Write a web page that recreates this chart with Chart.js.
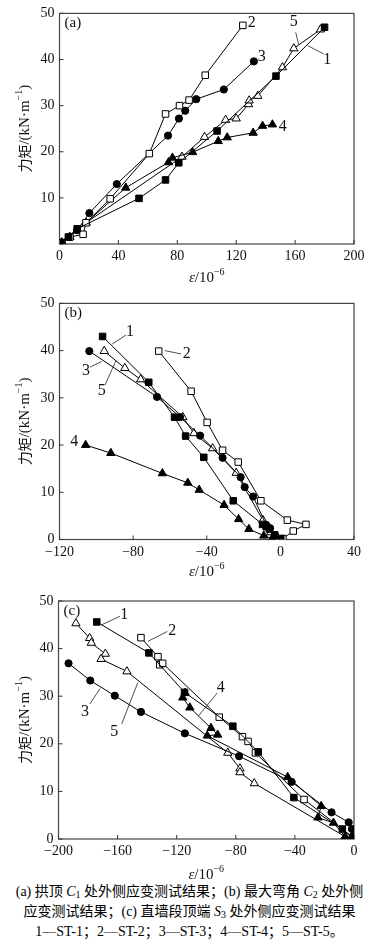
<!DOCTYPE html>
<html><head><meta charset="utf-8">
<script src="https://cdn.jsdelivr.net/npm/chart.js@4/dist/chart.umd.min.js"></script>
<style>
html,body{margin:0;padding:0;background:#fff;}
body{width:379px;height:946px;position:relative;overflow:hidden;}
.pane{position:absolute;left:0;width:379px;}
#caption{position:absolute;left:0;top:882px;width:379px;text-align:center;font-family:"Liberation Serif","Noto Sans CJK SC",serif;font-size:14px;line-height:20px;color:#000;-webkit-font-smoothing:antialiased;}
#caption sub{font-size:10px;vertical-align:-2px;line-height:0;}
#caption i{font-style:italic;}
</style></head><body>
<div class="pane" style="top:0;height:290px"><canvas id="ca" width="379" height="290"></canvas></div>
<div class="pane" style="top:290px;height:290px"><canvas id="cb" width="379" height="290"></canvas></div>
<div class="pane" style="top:580px;height:300px"><canvas id="cc" width="379" height="300"></canvas></div>
<div id="caption">
<div>(a) 拱顶 <i>C</i><sub>1</sub> 处外侧应变测试结果；(b) 最大弯角 <i>C</i><sub>2</sub> 处外侧</div>
<div>应变测试结果；(c) 直墙段顶端 <i>S</i><sub>3</sub> 处外侧应变测试结果</div>
<div>1—ST-1；2—ST-2；3—ST-3；4—ST-4；5—ST-5。</div>
</div>
<script>
// ---------- data: [strain (10^-6), moment (kN·m^-1)] ----------
const seriesLabels = ['ST-1','ST-2','ST-3','ST-4','ST-5'];

// panel (a): crown C1
const a_ST1 = [[1.5,0.3],[6,1.5],[12,3.3],[54,9.9],[72,13.9],[81,17.6],[107,24.5],[147,36.4],[180,47]];
const a_ST2 = [[1.5,0.3],[7,1.5],[16,2.1],[18,4.6],[34.4,9.8],[61,19.6],[72,28.2],[81.5,30],[88,31.2],[99,36.6],[124.5,47.4]];
const a_ST3 = [[1.5,0.3],[7,1.5],[12,3],[20.3,6.7],[38.9,13],[73.7,23.5],[81.1,27.2],[85.4,28.9],[92.9,31.4],[111.6,33.5],[132,39.6]];
const a_ST4 = [[1.5,0.3],[7,1.5],[12,3],[18,4.6],[45,12.2],[74,17.7],[76.7,18.7],[90.4,19.9],[107.8,22.3],[113.9,23.1],[131.5,24.1],[137.9,25.6],[144.6,25.9]];
const a_ST5 = [[1.5,0.3],[7,1.5],[12,3],[18,4.6],[83.2,18.9],[98.5,23.2],[112.8,26.9],[120,27.2],[128.4,30.3],[128.8,31.1],[134.7,32.1],[151.4,38.3],[159.1,42.4],[177.2,46.5]];

// panel (b): max bend C2
const b_ST1 = [[-96.6,43],[-71.5,33.3],[-57.5,25.9],[-51.5,21.9],[-41.6,17.4],[-25.6,8.2],[-9.7,3.2],[-7.7,2.7],[-5.9,2.2],[-3.1,1.0],[0.2,0.2]];
const b_ST2 = [[-66.1,39.9],[-48.5,31.4],[-39.8,24.8],[-31.4,18.9],[-22.9,16.4],[-10.6,8.2],[3.8,4.1],[13.9,3.2],[7,1.8],[1.3,0.2]];
const b_ST3 = [[-103.8,39.9],[-67,30.2],[-54.5,25.9],[-43.6,22],[-31.4,17.3],[-21.6,13.2],[-19.4,11.1],[-14.8,9.1],[-7.7,3.1],[-5.6,2.4],[-2.8,0.8]];
const b_ST4 = [[-105.8,20],[-92.1,18.3],[-64.1,14],[-50.3,12],[-44.1,10.5],[-30.6,7.3],[-22.7,4.3],[-17.1,2.2],[-9,0.8],[-4.5,0.2]];
const b_ST5 = [[-95.7,39.9],[-84.5,36.3],[-75.9,33.9],[-53,25.9],[-47,22.5],[-36.8,19.3],[-24,14.1],[-9.5,4.1],[-5.2,1.5],[-1.5,0.3]];

// panel (c): wall top S3
const c_ST1 = [[-174.1,45.6],[-138.8,39.1],[-114.7,30.8],[-82,23.7],[-64.8,18.3],[-40.7,8.7],[-7.9,2.1],[-1,0.3]];
const c_ST2 = [[-144.2,42.3],[-132.7,38.3],[-131.5,36.6],[-129.5,36.9],[-91.2,25.6],[-75.5,21.5],[-71.7,20.5],[-66.7,18.1],[-33.8,8.3],[-0.5,0.3]];
const c_ST3 = [[-193.2,36.9],[-178.5,33.3],[-161.9,30.1],[-144.2,26.7],[-114.5,22.2],[-77.8,17.4],[-42.2,12.0],[-15.2,5.6],[-3.6,3.5],[-1.4,2.1],[-0.3,0.7]];
const c_ST4 = [[-114.3,30.7],[-115.9,29.7],[-111.1,27.6],[-96.8,23.3],[-92.3,21.9],[-99.3,21.7],[-44.9,13],[-22.2,6.9],[-24.4,4.5],[-13.9,3.4],[-6,0.5]];
const c_ST5 = [[-188.2,45.3],[-178.9,42.2],[-177.8,41.2],[-168.3,38.9],[-171.2,37.8],[-153.7,35.2],[-85.4,18.1],[-77.2,14.8],[-77.2,14.0],[-67.5,11.7],[-6,0.5],[-1,0.2]];

// tick labels
const a_xTicks = [0,40,80,120,160,200];
const b_xTicks = [-120,-80,-40,0,40];
const c_xTicks = [-200,-160,-120,-80,-40,0];
const yTicks = [0,10,20,30,40,50];

// ---------- styling ----------
const markers = [
  {shape:'rect', r:4.6, fill:'#000'},
  {shape:'rect', r:4.6, fill:'#fff'},
  {shape:'circle', r:3.6, fill:'#000'},
  {shape:'triangle', r:4.8, fill:'#000'},
  {shape:'triangle', r:4.8, fill:'#fff'}
];
const SERIF = '"Liberation Serif","Times New Roman",serif';
const CJK = '"Noto Sans CJK SC",sans-serif';
const fmt = v => v < 0 ? '\u2212' + Math.abs(v) : String(v);

function makeDatasets(list){
  return list.map((pts,i)=>({
    label: seriesLabels[i],
    data: pts.map(p=>({x:p[0], y:p[1]})),
    showLine:true, borderColor:'#000', borderWidth:1, tension:0, fill:false,
    pointStyle:markers[i].shape, pointRadius:markers[i].r,
    pointBackgroundColor:markers[i].fill, pointBorderColor:'#000', pointBorderWidth:1,
    pointHoverRadius:markers[i].r
  }));
}

function drawRich(ctx, parts, x, y, size){
  const fontOf = k => k==='i' ? `italic ${size}px ${SERIF}` : k==='s' ? `${Math.round(size*0.68)}px ${SERIF}` : k==='c' ? `${size-1}px ${CJK}` : `${size}px ${SERIF}`;
  let w = 0;
  parts.forEach(([t,k])=>{ ctx.font = fontOf(k); w += ctx.measureText(t).width; });
  let cx = x - w/2;
  ctx.textBaseline = 'middle'; ctx.textAlign = 'left';
  parts.forEach(([t,k])=>{
    ctx.font = fontOf(k);
    ctx.fillText(t, cx, k==='s' ? y - size*0.38 : y);
    cx += ctx.measureText(t).width;
  });
}

const decor = {
  id:'decor',
  beforeDatasetsDraw(chart){
    const {ctx, chartArea:a, scales:{x,y}} = chart;
    const o = chart.options.plugins.decor;
    ctx.save();
    ctx.strokeStyle = '#444'; ctx.lineWidth = 1.2;
    ctx.strokeRect(a.left, a.top, a.right-a.left, a.bottom-a.top);
    ctx.lineWidth = 1; ctx.strokeStyle = '#333';
    ctx.beginPath();
    o.xTicks.forEach(v=>{ const px = x.getPixelForValue(v); ctx.moveTo(px, a.bottom); ctx.lineTo(px, a.bottom-4); });
    yTicks.forEach(v=>{ const py = y.getPixelForValue(v); ctx.moveTo(a.left, py); ctx.lineTo(a.left+4, py); });
    ctx.stroke();
    ctx.restore();
  },
  afterDraw(chart){
    const {ctx, chartArea:a, scales:{x,y}} = chart;
    const o = chart.options.plugins.decor;
    ctx.save();
    ctx.fillStyle = '#111'; ctx.strokeStyle = '#222'; ctx.lineWidth = 0.8;
    ctx.font = `15px ${SERIF}`; ctx.textAlign='left'; ctx.textBaseline='middle';
    ctx.fillText(o.tag, a.left+5, a.top+10);
    o.callouts.forEach(c=>{
      if (c.l) {
        ctx.beginPath();
        ctx.moveTo(x.getPixelForValue(c.l[0]), y.getPixelForValue(c.l[1]));
        ctx.lineTo(x.getPixelForValue(c.l[2]), y.getPixelForValue(c.l[3]));
        ctx.stroke();
      }
      ctx.font = `16px ${SERIF}`; ctx.textAlign='center'; ctx.textBaseline='middle';
      ctx.fillText(c.t, x.getPixelForValue(c.x), y.getPixelForValue(c.y));
    });
    ctx.fillStyle = '#111';
    drawRich(ctx, [['\u03b5','i'],['/10','n'],['\u22126','s']], (a.left+a.right)/2, o.xTitleY, 15);
    ctx.translate(o.yTitleX, (a.top+a.bottom)/2);
    ctx.rotate(-Math.PI/2);
    drawRich(ctx, [['力矩','c'],['/(kN\u00b7m','n'],['\u22121','s'],[')','n']], 0, 0, 15);
    ctx.restore();
  }
};

function makeChart(id, sets, cfg){
  return new Chart(document.getElementById(id), {
    type:'scatter',
    data:{datasets: makeDatasets(sets)},
    options:{
      responsive:false, animation:false, devicePixelRatio:1,
      layout:{padding:{top:cfg.top, right:cfg.right, left:0, bottom:0}},
      plugins:{legend:{display:false}, tooltip:{enabled:false},
        decor:{tag:cfg.tag, xTicks:cfg.xTicks, callouts:cfg.callouts, xTitleY:cfg.xTitleY, yTitleX:25}},
      scales:{
        x:{type:'linear', min:cfg.xTicks[0], max:cfg.xTicks[cfg.xTicks.length-1],
          afterBuildTicks:s=>{ s.ticks = cfg.xTicks.map(v=>({value:v})); },
          ticks:{autoSkip:false, maxRotation:0, padding:4, color:'#111', font:{family:SERIF, size:14}, callback:v=>fmt(v)},
          grid:{display:false, drawTicks:false}, border:{display:false},
          afterFit:s=>{ s.height = cfg.xH; }},
        y:{type:'linear', min:0, max:50,
          afterBuildTicks:s=>{ s.ticks = yTicks.map(v=>({value:v})); },
          ticks:{autoSkip:false, padding:5, color:'#111', font:{family:SERIF, size:14}, callback:v=> (cfg.hideY0 && v===0) ? '' : fmt(v)},
          grid:{display:false, drawTicks:false}, border:{display:false},
          afterFit:s=>{ s.width = cfg.yW; }}
      }
    },
    plugins:[decor]
  });
}

makeChart('ca', [a_ST1,a_ST2,a_ST3,a_ST4,a_ST5], {
  tag:'(a)', xTicks:a_xTicks, top:6, right:25, xH:46, yW:59.5, xTitleY:278, hideY0:true,
  callouts:[
    {t:'2', x:130.5, y:47.9},
    {t:'3', x:137.3, y:40.5},
    {t:'5', x:159, y:48.2, l:[160.4,45.9,162.4,43.3]},
    {t:'1', x:181.8, y:39.9, l:[179.4,41.2,168.6,43.0]},
    {t:'4', x:151.6, y:25.4}
  ]
});
makeChart('cb', [b_ST1,b_ST2,b_ST3,b_ST4,b_ST5], {
  tag:'(b)', xTicks:b_xTicks, top:10, right:25, xH:40.5, yW:59.5, xTitleY:282, hideY0:false,
  callouts:[
    {t:'1', x:-81.7, y:44.0, l:[-83.9,43.3,-91.3,41.4]},
    {t:'2', x:-50.9, y:39.3, l:[-54,39.3,-62.7,40]},
    {t:'3', x:-105.6, y:35.8, l:[-103.4,36.5,-97.1,37.7]},
    {t:'5', x:-97.1, y:31.5, l:[-95.3,32.7,-89.3,37.9]},
    {t:'4', x:-112, y:20.7}
  ]
});
makeChart('cc', [c_ST1,c_ST2,c_ST3,c_ST4,c_ST5], {
  tag:'(c)', xTicks:c_xTicks, top:21, right:25, xH:41, yW:58.5, xTitleY:295, hideY0:false,
  callouts:[
    {t:'1', x:-155.5, y:47.1, l:[-158.4,46.8,-170.8,45.0]},
    {t:'2', x:-123, y:43.8, l:[-126.4,43.6,-139.6,41.5]},
    {t:'3', x:-182.1, y:26.8, l:[-178.7,28.4,-171.9,31.6]},
    {t:'5', x:-162.2, y:22.6, l:[-157.2,24.2,-146.4,32.8]},
    {t:'4', x:-90.2, y:31.7, l:[-92.5,30.7,-104.9,26.0]}
  ]
});
</script>
</body></html>
